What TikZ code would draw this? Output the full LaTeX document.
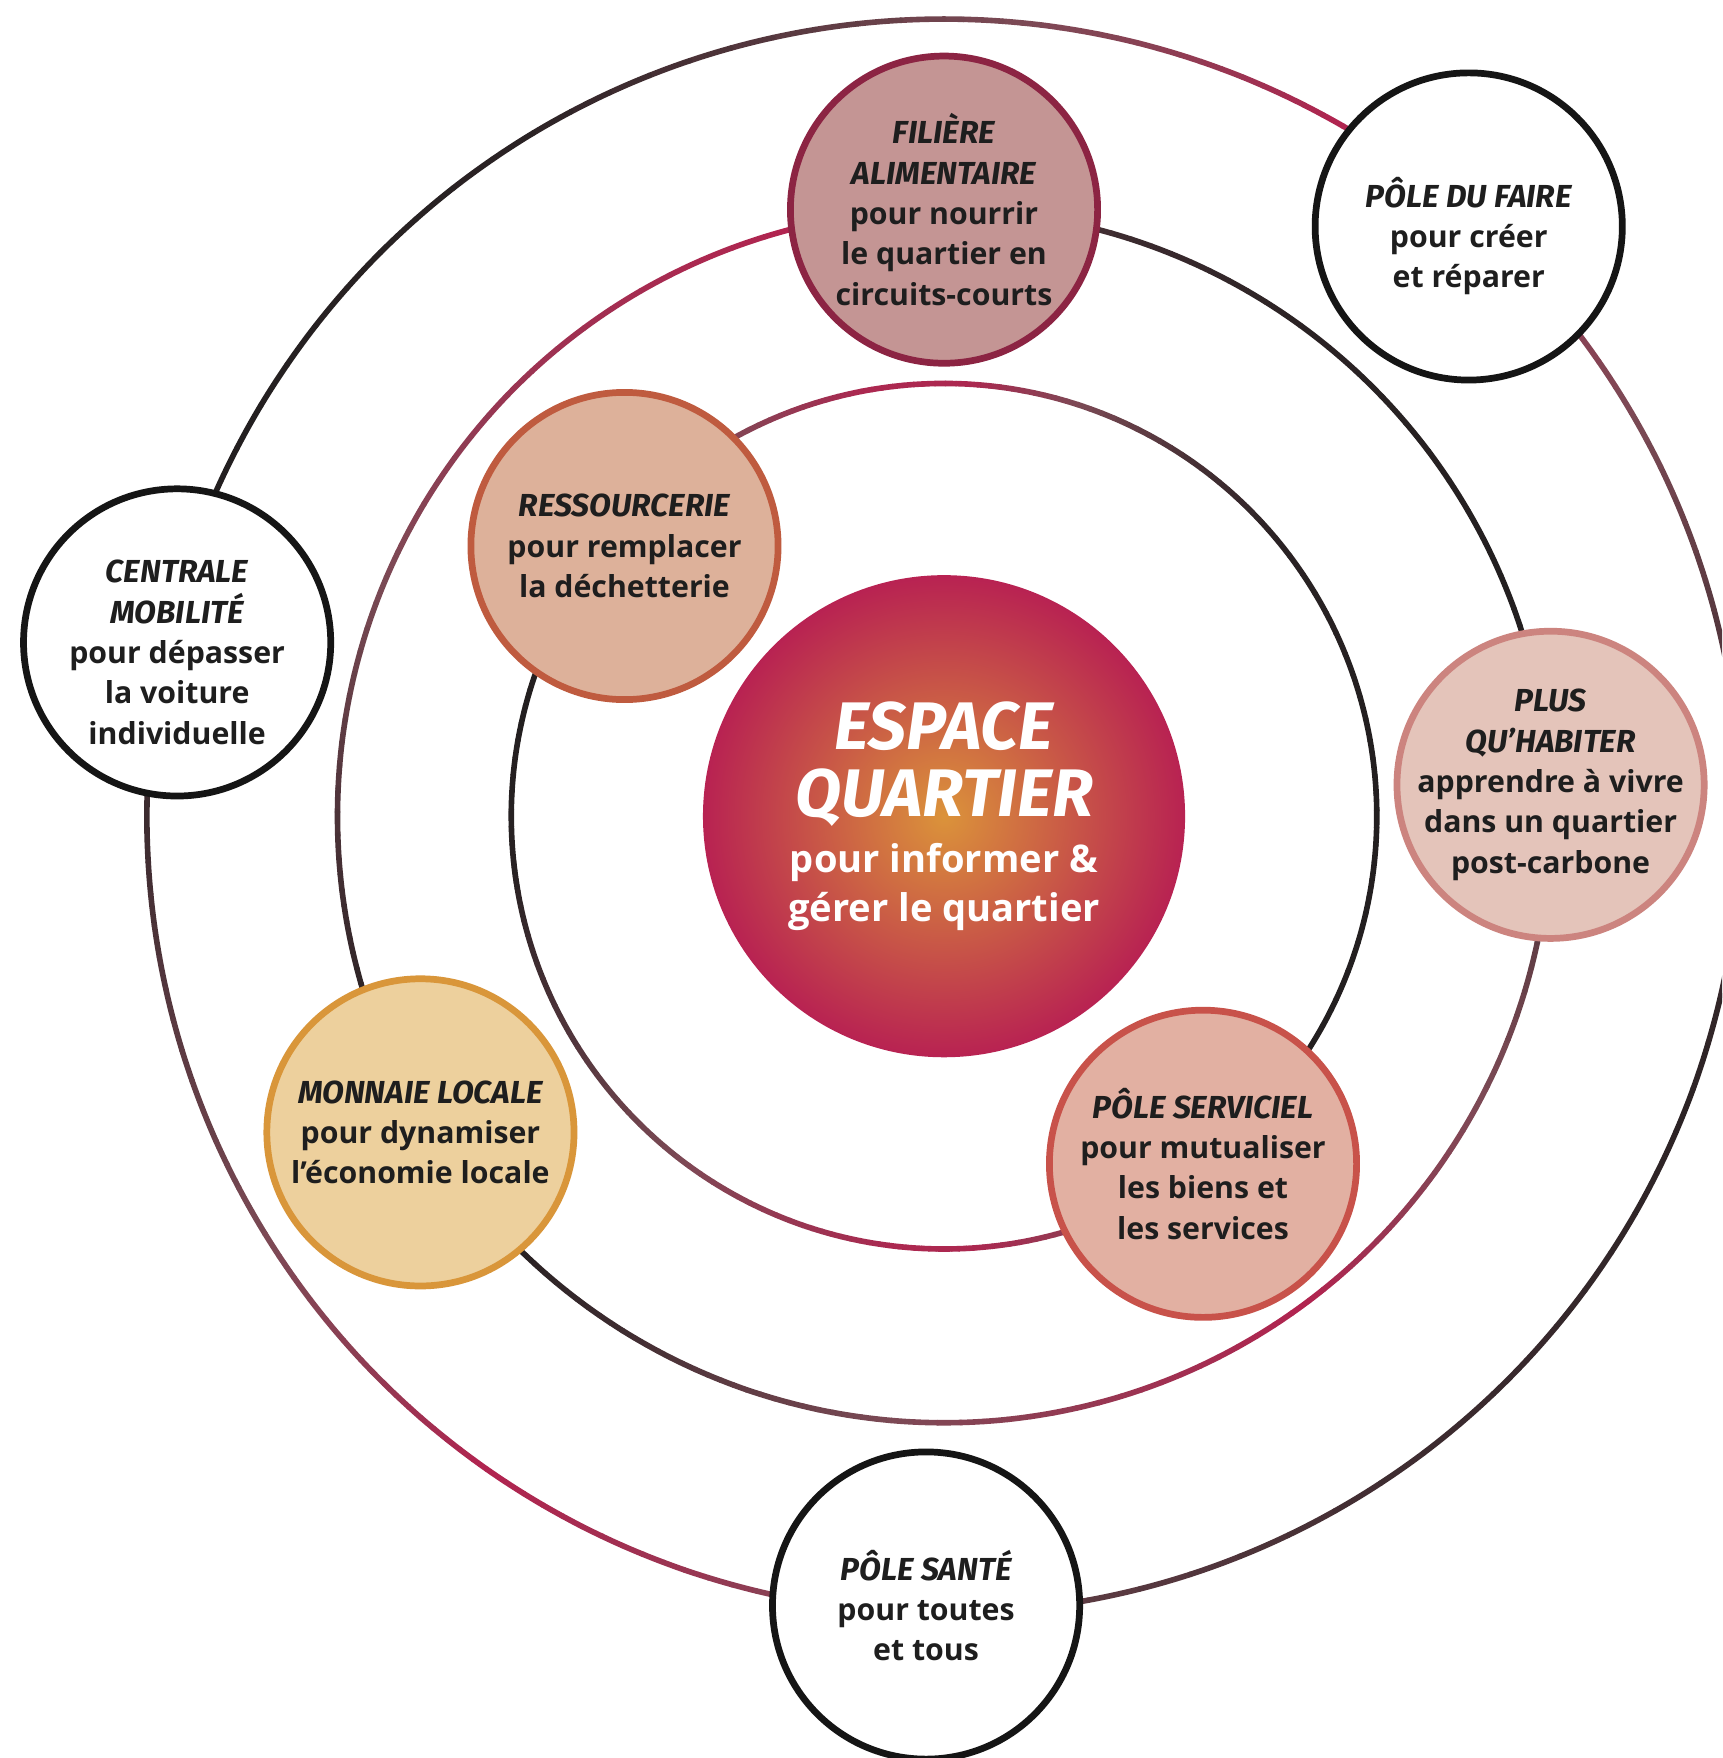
\documentclass[tikz,border=0pt]{standalone}
\usepackage{fontspec}
\setmainfont{Open Sans}
\newfontfamily\titlefont{Fira Sans}
\usetikzlibrary{positioning,calc}

\definecolor{ringred}{HTML}{B81F4F}
\definecolor{ringmid}{HTML}{7C4A55}
\definecolor{ringdark}{HTML}{231F20}
\definecolor{textdark}{HTML}{1E1E1E}
\definecolor{poleblack}{HTML}{151515}
\definecolor{filierefill}{HTML}{C49594}
\definecolor{filiereline}{HTML}{8C2443}
\definecolor{ressfill}{HTML}{DDB19A}
\definecolor{ressline}{HTML}{BF5B3F}
\definecolor{plusfill}{HTML}{E4C4BA}
\definecolor{plusline}{HTML}{CC847F}
\definecolor{monnaiefill}{HTML}{EDD09D}
\definecolor{monnaieline}{HTML}{D9963A}
\definecolor{servfill}{HTML}{E2B0A2}
\definecolor{servline}{HTML}{C8524A}
\definecolor{centreorange}{HTML}{DB933A}
\definecolor{centrered}{HTML}{B82252}

\newcommand{\titre}[1]{{\titlefont\bfseries\itshape\fontsize{14.2}{18}\selectfont #1}}
\newcommand{\grand}[1]{{\titlefont\bfseries\itshape\fontsize{30}{30}\selectfont #1}}

\begin{document}
\begin{tikzpicture}[x=0.5pt,y=0.5pt,
	ring/.style={line width=2.5pt,line cap=round},
	pole/.style={circle,minimum size=137pt,inner sep=-8pt,line width=3pt,align=center,text=textdark,font=\bfseries\fontsize{13.5}{18}\selectfont},
	blanc/.style={pole,fill=white,draw=poleblack},
	coeur/.style={circle,minimum size=215pt,inner sep=0pt,shading=radial,inner color=centreorange,outer color=centrered,text=white,align=center,font=\bfseries\fontsize{17}{22}\selectfont}]
	
	%% Frame
	\clip (-842,-840) rectangle (694,728);
	\fill[white] (-842,-840) rectangle (694,728);
	
	%% Rings: radius / first angle / first mix / angle/mix keys
	\foreach \R/\sa/\sp/\keys in {
		711/-91/40/{-53/15,-20/5,15/30,37/60,60/95,76/60,90/45,121/5,156/0,181/15,204/40,223/65,235/95,251/75,269/40},
		541/-149/0/{-135/3,-122/15,-109/35,-95/50,-73/75,-53/95,-36/60,-12/35,3/10,20/0,54/5,74/15,90/55,104/95,136/75,162/45,184/20,199/5,211/0},
		386/-53/0/{-13/0,10/0,40/5,55/20,72/50,87/90,101/90,117/60,140/25,163/0,186/3,190/5,210/25,232/50,251/75,264/90,274/90,286/70,307/0}}{
		\foreach \a/\p [remember=\a as \lasta (initially \sa), remember=\p as \lastp (initially \sp)] in \keys {
			\foreach \k in {0,...,9}{
				\pgfmathsetmacro\ta{\lasta+(\a-\lasta)*\k/10}
				\pgfmathsetmacro\tb{\lasta+(\a-\lasta)*(\k+1)/10}
				\pgfmathtruncatemacro\tp{\lastp+(\p-\lastp)*(\k+0.5)/10}
				\ifnum\tp<50
					\pgfmathtruncatemacro\tq{2*\tp}\def\col{ringmid!\tq!ringdark}
				\else
					\pgfmathtruncatemacro\tq{2*\tp-100}\def\col{ringred!\tq!ringmid}
				\fi
				\draw[ring,draw=\col] (\ta:\R) arc[start angle=\ta,end angle=\tb,radius=\R];
			}
		}
	}
	
	%% Centre
	\node (centre) [coeur] at (0,0)
	{\grand{ESPACE}\\[8pt]\grand{QUARTIER}\\[3pt]pour informer \&\\gérer le quartier};
	
	%% Inner ring
	\node (ressourcerie) [pole,fill=ressfill,draw=ressline] at (-285,241)
	{\titre{RESSOURCERIE}\\pour remplacer\\la déchetterie};
	\node (serviciel) [pole,fill=servfill,draw=servline] at (231,-310)
	{\titre{PÔLE SERVICIEL}\\pour mutualiser\\les biens et\\les services};
	
	%% Middle ring
	\node (filiere) [pole,fill=filierefill,draw=filiereline] at (0,541)
	{\titre{FILIÈRE}\\\titre{ALIMENTAIRE}\\pour nourrir\\le quartier en\\circuits-courts};
	\node (plus) [pole,fill=plusfill,draw=plusline] at (541,28)
	{\titre{PLUS}\\\titre{QU’HABITER}\\apprendre à vivre\\dans un quartier\\post-carbone};
	\node (monnaie) [pole,fill=monnaiefill,draw=monnaieline] at (-467,-282)
	{\titre{MONNAIE LOCALE}\\pour dynamiser\\l’économie locale};
	
	%% Outer ring
	\node (faire) [blanc] at (468,526)
	{\rule{0pt}{22pt}\titre{PÔLE DU FAIRE}\\pour créer\\et réparer};
	\node (centrale) [blanc] at (-684,155)
	{\rule{0pt}{19pt}\titre{CENTRALE}\\\titre{MOBILITÉ}\\pour dépasser\\la voiture\\individuelle};
	\node (sante) [blanc] at (-16,-704)
	{\titre{PÔLE SANTÉ}\\pour toutes\\et tous};
\end{tikzpicture}
\end{document}
